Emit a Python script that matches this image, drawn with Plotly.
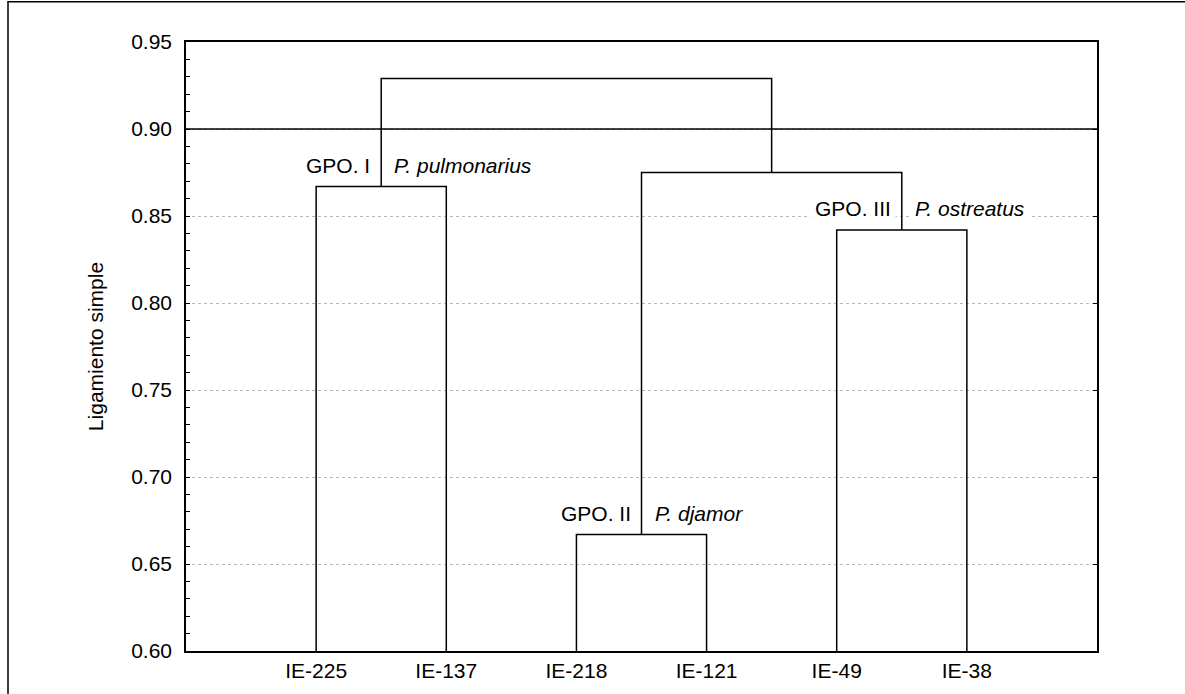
import plotly.graph_objects as go

# Strains (leaves of the dendrogram, left to right)
LEAVES = ["IE-225", "IE-137", "IE-218", "IE-121", "IE-49", "IE-38"]

# Single-linkage merges: (cluster a, cluster b, height); new clusters get ids 6, 7, ...
MERGES = [
    (0, 1, 0.867),
    (2, 3, 0.667),
    (4, 5, 0.842),
    (7, 8, 0.875),
    (6, 9, 0.929),
]

# Group labels attached to the first three merges
GROUPS = ["GPO. I", "GPO. II", "GPO. III"]
SPECIES = ["P. pulmonarius", "P. djamor", "P. ostreatus"]

CUTOFF = 0.90
Y_MIN, Y_MAX = 0.60, 0.95
Y_TICKS = [0.60, 0.65, 0.70, 0.75, 0.80, 0.85, 0.90, 0.95]

FONT = "Arial, Liberation Sans, sans-serif"
W, H = 1185, 694
ML, MR, MT, MB = 186, 88, 42, 41

# cluster id -> (x position, height)
pos = {i: (i + 1, Y_MIN) for i in range(len(LEAVES))}
xs, ys = [], []
for k, (a, b, h) in enumerate(MERGES):
    xa, ha = pos[a]
    xb, hb = pos[b]
    xs += [xa, xa, xb, xb, None]
    ys += [ha, h, h, hb, None]
    pos[len(LEAVES) + k] = ((xa + xb) / 2, h)

fig = go.Figure()
fig.add_trace(go.Scatter(
    x=xs, y=ys, mode="lines",
    line=dict(color="black", width=1.5),
    hoverinfo="skip", showlegend=False,
))
# invisible trace to carry the right-hand tick axis
fig.add_trace(go.Scatter(
    x=[1], y=[Y_MIN], yaxis="y2", mode="markers",
    marker=dict(opacity=0), hoverinfo="skip", showlegend=False,
))

# cut-off line
fig.add_shape(type="line", xref="paper", yref="y", x0=0, x1=1, y0=CUTOFF, y1=CUTOFF,
              line=dict(color="black", width=1.5))

# group annotations
for k, (g, sp) in enumerate(zip(GROUPS, SPECIES)):
    cid = len(LEAVES) + k
    xm, h = pos[cid]
    fig.add_annotation(x=xm, y=h, text=g, showarrow=False, xanchor="right", yanchor="middle",
                       xshift=-6, yshift=21, bgcolor="white", borderpad=4,
                       font=dict(family=FONT, size=21, color="black"))
    fig.add_annotation(x=xm, y=h, text="<i>" + sp + "</i>", showarrow=False, xanchor="left",
                       yanchor="middle", xshift=8, yshift=21, bgcolor="white", borderpad=4,
                       font=dict(family=FONT, size=21, color="black"))

# outer frame
fig.add_shape(type="rect", xref="paper", yref="paper",
              x0=(8 - ML) / (W - ML - MR), x1=(W + 10 - ML) / (W - ML - MR),
              y0=(H - MB - (H + 10)) / (H - MT - MB), y1=(H - MB - 1.5) / (H - MT - MB),
              line=dict(color="black", width=1.5), layer="above")

fig.update_layout(
    width=W, height=H,
    margin=dict(l=ML, r=MR, t=MT, b=MB),
    paper_bgcolor="white", plot_bgcolor="white",
    font=dict(family=FONT, size=21, color="black"),
    xaxis=dict(
        range=[0, len(LEAVES) + 1],
        tickvals=list(range(1, len(LEAVES) + 1)), ticktext=LEAVES,
        showgrid=False, zeroline=False, ticks="",
        showline=True, linecolor="black", linewidth=1.5, mirror=True,
        tickfont=dict(size=21),
    ),
    yaxis=dict(
        range=[Y_MIN, Y_MAX], tickvals=Y_TICKS, tickformat=".2f",
        ticks="inside", ticklen=4, tickcolor="black", tickwidth=1,
        minor=dict(dtick=0.01, ticks="inside", ticklen=4, tickcolor="black", showgrid=False),
        showgrid=True, gridcolor="#b8b8b8", griddash="dot", gridwidth=1,
        zeroline=False, showline=True, linecolor="black", linewidth=1.5, mirror=True,
        title=dict(text="Ligamiento simple", font=dict(size=21), standoff=22),
        tickfont=dict(size=21), ticklabelstandoff=8,
    ),
    yaxis2=dict(
        range=[Y_MIN, Y_MAX], tickvals=Y_TICKS, overlaying="y", side="right",
        ticks="inside", ticklen=4, tickcolor="black", showticklabels=False,
        showgrid=False, zeroline=False, showline=False,
    ),
)

fig.write_html("out.html")
